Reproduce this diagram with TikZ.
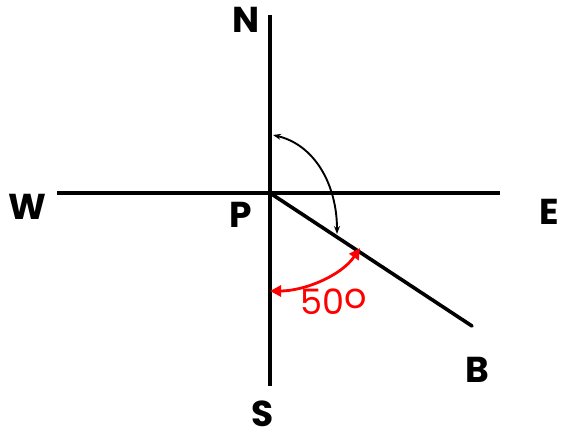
\documentclass[tikz,border=0pt]{standalone}
\usepackage{fontspec}
\setmainfont{Poppins}
\usepackage{tikz}
\usetikzlibrary{arrows.meta, calc}

\begin{document}
\begin{tikzpicture}[
  x=1pt, y=-1pt,
  axis/.style={line width=3.6pt, black},
  dirlbl/.style={font=\fontsize{36}{36}\selectfont\bfseries, inner sep=0pt},
  turn/.style={{Stealth[length=8pt,width=6pt]}-{Stealth[length=8pt,width=6pt]}, line width=1.9pt, black},
  angarr/.style={{Triangle[length=11pt,width=11pt]}-{Triangle[length=11pt,width=11pt]}, line width=2.8pt, red}
]
\useasboundingbox (0,0) rectangle (561,436);
%% compass lines
\coordinate (P)  at (270,193);
\coordinate (Nt) at (270,15);
\coordinate (St) at (270,386);
\coordinate (Wt) at (57,193);
\coordinate (Et) at (500,193);
\coordinate (Bt) at (472,326);
\draw[axis] (Nt) -- (St);
\draw[axis] (Wt) -- (Et);
\draw[axis, line cap=round] (P) -- (Bt);
%% labels
\node[dirlbl] (N) at (246,20)  {N};
\node[dirlbl] (W) at (27,207)  {W};
\node[dirlbl] (E) at (549,212) {E};
\node[dirlbl] (S) at (263,414) {S};
\node[dirlbl] (pl) at (241,215) {P};
\node[dirlbl] (B) at (477,370) {B};
%% angles
\coordinate (a1) at (273,135);
\coordinate (a2) at (337,234);
\draw[turn] (a1) .. controls (315,145) and (337,185) .. (a2);
\coordinate (r1) at (360,248);
\coordinate (r2) at (270,291);
\draw[angarr] (r1) .. controls (341,276) and (304,291) .. (r2);
\node[red, font=\fontsize{35}{35}\selectfont, inner sep=0pt] (ang) at (334,302)
  {50\raisebox{6pt}{o}};
\end{tikzpicture}
\end{document}
